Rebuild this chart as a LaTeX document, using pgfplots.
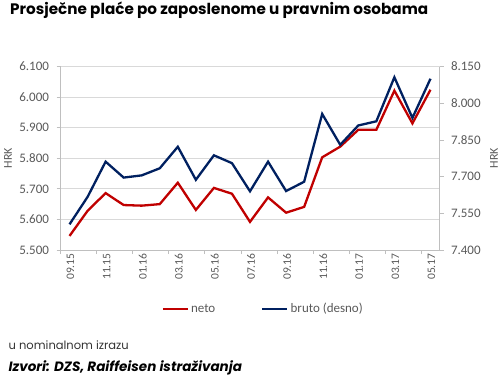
\documentclass[border=0pt]{standalone}
\usepackage{pgfplots}
\pgfplotsset{compat=1.18}
\usepackage{fontspec}
\setmainfont{Carlito}
\newfontfamily\titlefont{Poppins}
\definecolor{netored}{RGB}{192,0,0}
\definecolor{brutoblue}{RGB}{0,32,96}
\definecolor{gridgray}{RGB}{217,217,217}
\definecolor{axgray}{RGB}{191,191,191}
\definecolor{txtgray}{RGB}{89,89,89}
\begin{document}
\begin{tikzpicture}[x=1pt,y=1pt]
\useasboundingbox (0,0) rectangle (500,375);
\pgfplotsset{
  common/.style={
    at={(60.5pt,125pt)}, anchor=south west, scale only axis,
    width=379pt, height=183.5pt,
    xmin=-0.5, xmax=20.5,
    axis line style={axgray, line width=0.8pt},
    tick style={axgray, line width=0.8pt},
    tick align=outside, major tick length=4pt,
    ticklabel style={font=\fontsize{13}{13}\selectfont, text=txtgray},
  }
}
\begin{axis}[common,
  ymin=5500, ymax=6100,
  axis x line*=bottom, axis y line*=left,
  ytick={5500,5600,...,6100},
  yticklabels={5.500,5.600,5.700,5.800,5.900,6.000,6.100},
  ymajorgrids, grid style={gridgray, line width=0.8pt},
  yticklabel style={xshift=-4pt},
  xtick={-0.5,1.5,...,19.5}, xticklabels={},
  extra x ticks={0,2,...,20},
  extra x tick labels={09.15,11.15,01.16,03.16,05.16,07.16,09.16,11.16,01.17,03.17,05.17},
  extra x tick style={major tick length=0pt, grid=none,
    xticklabel style={rotate=90, anchor=east, font=\fontsize{11.5}{11.5}\selectfont, text=txtgray, yshift=-1pt}},
]
\addplot[netored, line width=2.3pt, mark=none] coordinates {
(0,5546) (1,5628) (2,5686) (3,5647) (4,5645) (5,5650) (6,5720) (7,5631) (8,5703) (9,5684) (10,5592)
(11,5672) (12,5622) (13,5641) (14,5803) (15,5838) (16,5893) (17,5893) (18,6021) (19,5914) (20,6024)
};
\end{axis}
\begin{axis}[common,
  ymin=7400, ymax=8150,
  axis x line=none, axis y line*=right,
  ytick={7400,7550,...,8150},
  yticklabels={7.400,7.550,7.700,7.850,8.000,8.150},
  yticklabel style={xshift=4pt},
  legend columns=2,
  legend style={at={(0.535,-0.32)}, anchor=center, draw=none, fill=none,
    font=\fontsize{13}{13}\selectfont, text=txtgray,
    /tikz/every even column/.append style={column sep=44pt}},
  legend image code/.code={\draw[#1] (0pt,0pt) -- (25pt,0pt);},
]
\addlegendimage{netored, line width=2.3pt}
\addlegendentry{neto}
\addplot[brutoblue, line width=2.3pt, mark=none] coordinates {
(0,7505) (1,7617) (2,7761) (3,7696) (4,7705) (5,7734) (6,7822) (7,7687) (8,7787) (9,7755) (10,7640)
(11,7761) (12,7641) (13,7679) (14,7956) (15,7830) (16,7909) (17,7926) (18,8106) (19,7940) (20,8100)
};
\addlegendentry{bruto (desno)}
\end{axis}
\node[anchor=base west, inner sep=0pt, font=\titlefont\bfseries\fontsize{15.2}{15.2}\selectfont] at (10,360) {Prosječne plaće po zaposlenome u pravnim osobama};
\node[anchor=center, rotate=90, inner sep=0pt, font=\fontsize{12}{12}\selectfont, text=txtgray] at (8,217) {HRK};
\node[anchor=center, rotate=90, inner sep=0pt, font=\fontsize{12}{12}\selectfont, text=txtgray] at (494,217) {HRK};
\node[anchor=base west, inner sep=0pt, font=\titlefont\fontsize{11.5}{11.5}\selectfont, text=black!80] at (8.5,26) {u nominalnom izrazu};
\node[anchor=base west, inner sep=0pt, font=\titlefont\bfseries\itshape\fontsize{13.5}{13.5}\selectfont] at (8.5,4) {Izvori: DZS, Raiffeisen istraživanja};
\end{tikzpicture}
\end{document}
